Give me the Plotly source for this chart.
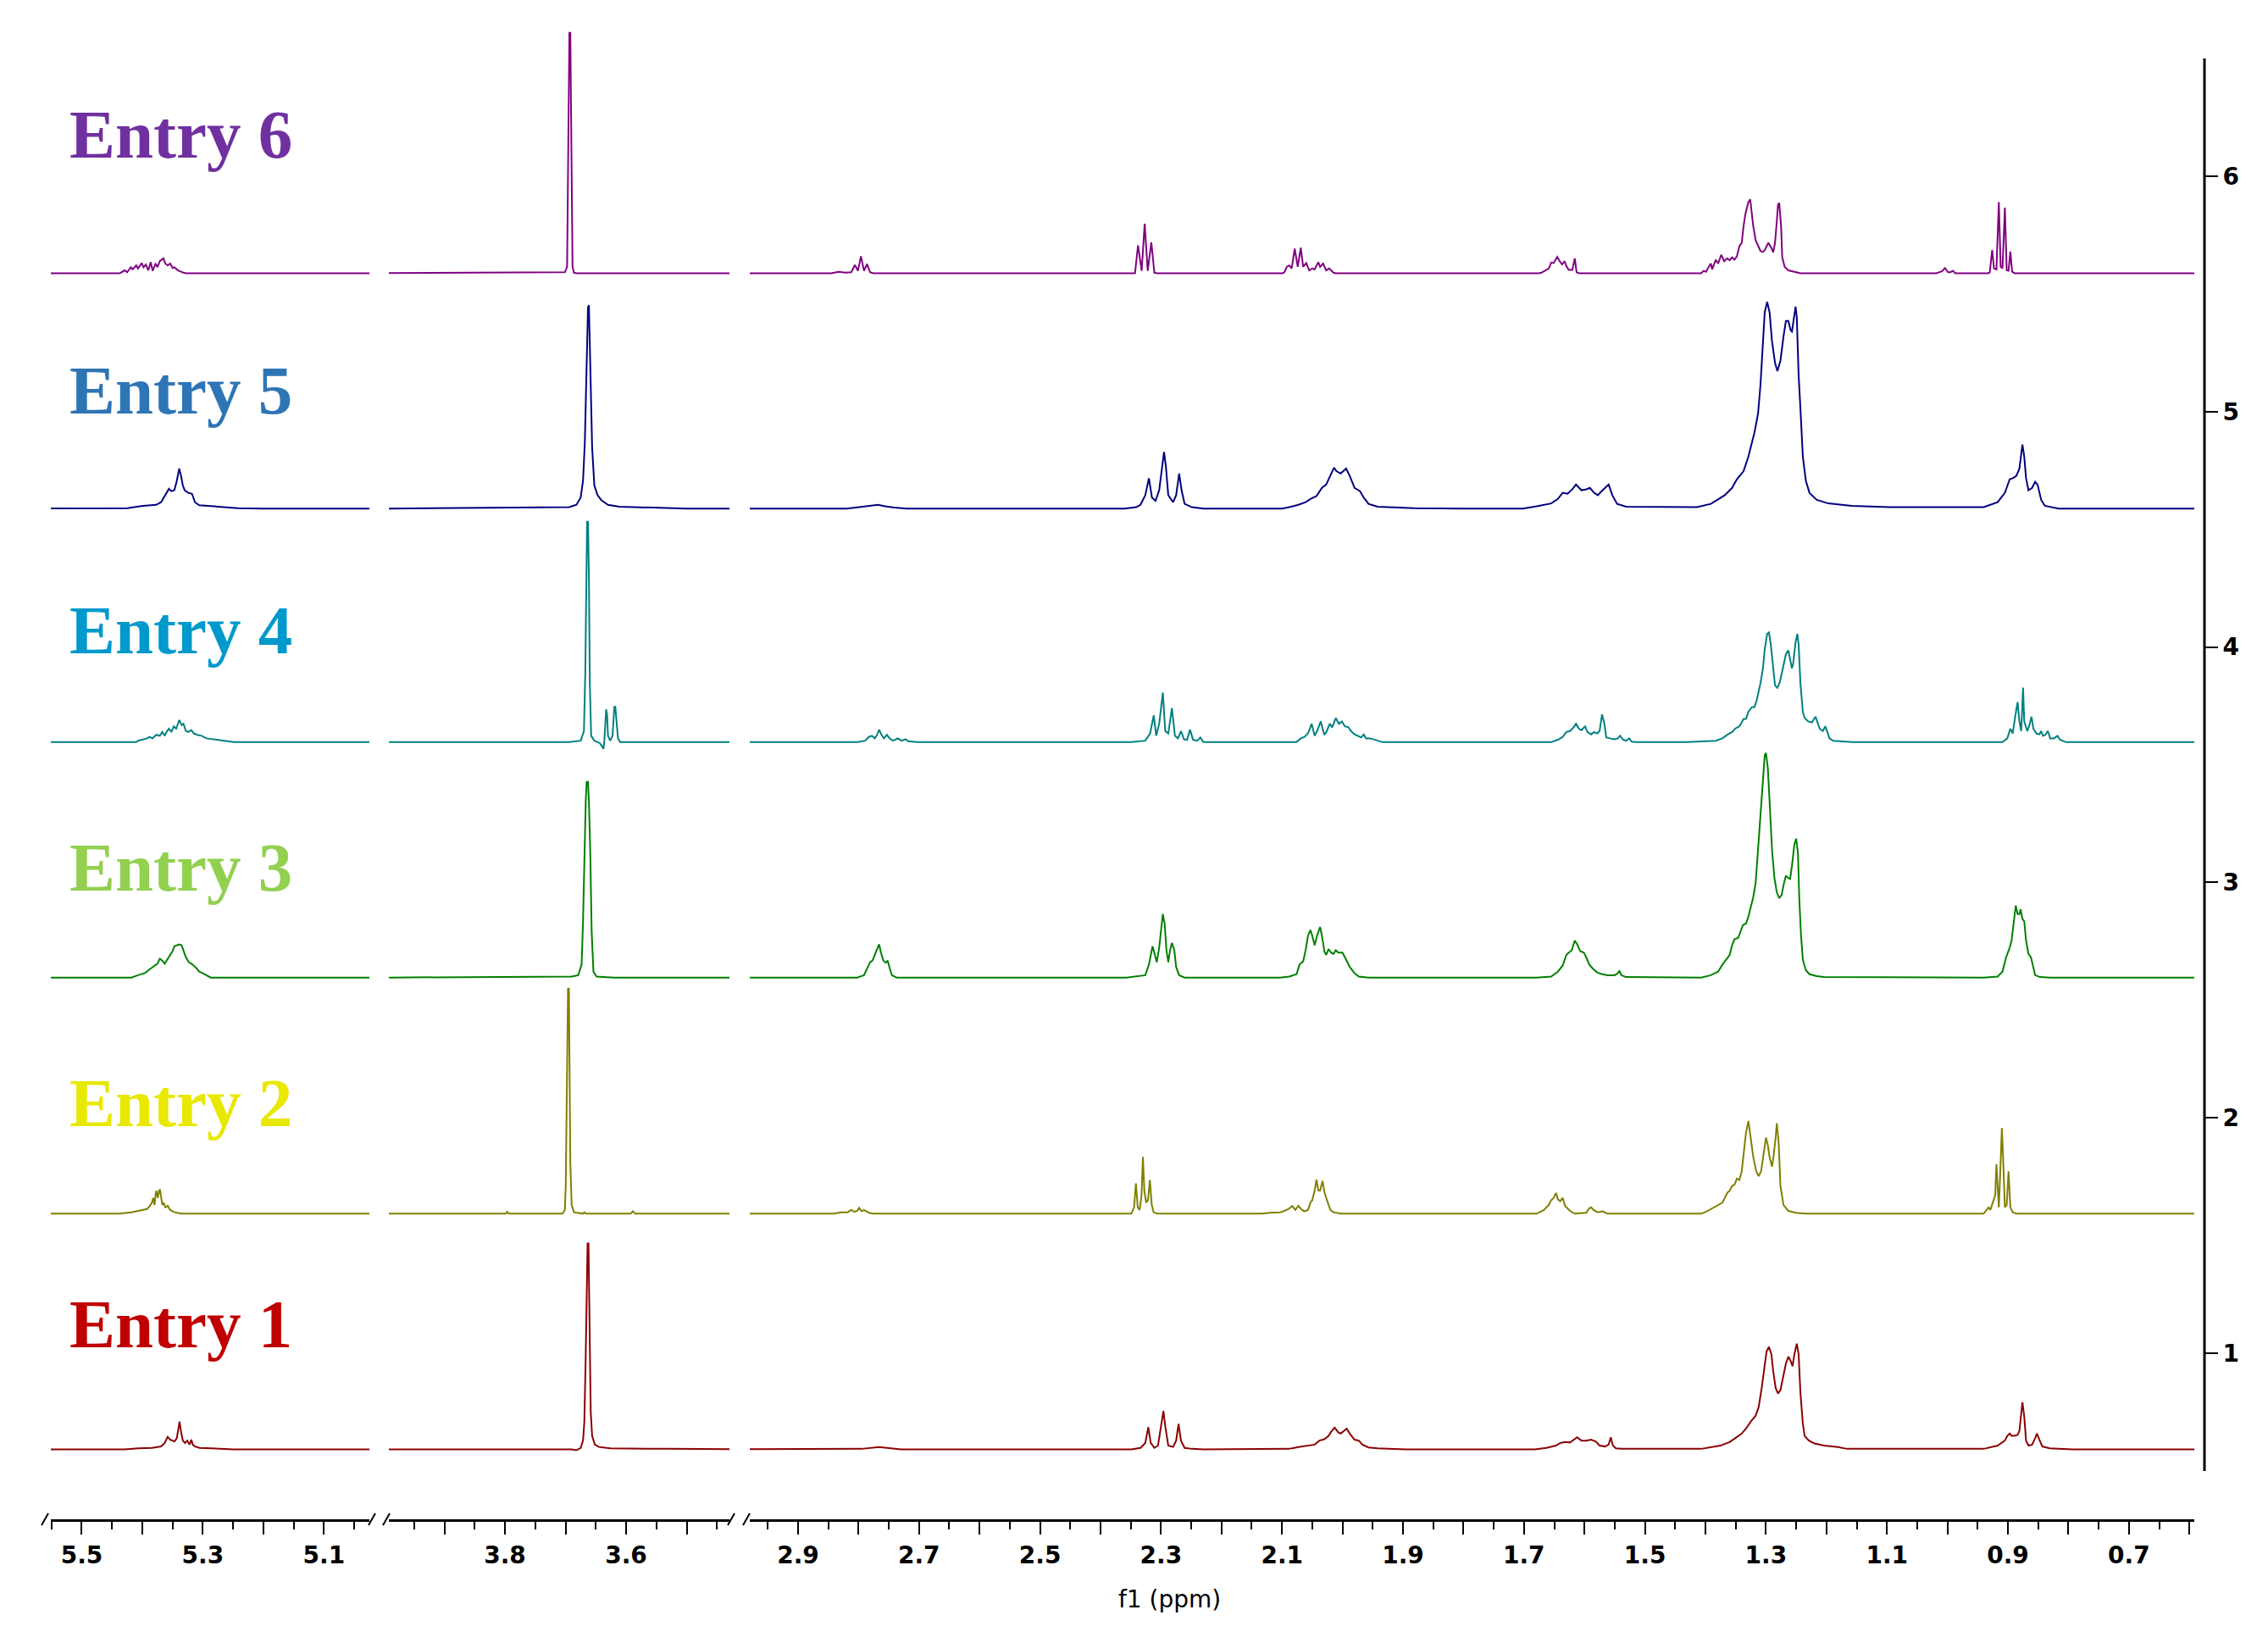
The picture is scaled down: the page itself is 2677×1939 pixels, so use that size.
import plotly.graph_objects as go

# ---------------- data ----------------
ENTRY_LABELS = ["Entry 1", "Entry 2", "Entry 3", "Entry 4", "Entry 5", "Entry 6"]
LINE_COLORS = ["#8B0000", "#808000", "#008000", "#008080", "#000080", "#800080"]
LABEL_COLORS = ["#C00000", "#E8E800", "#92D050", "#0099CC", "#2E75B6", "#7030A0"]
BASELINES = [0.592, 1.593, 2.596, 3.596, 4.588, 5.588]

# (chemical shift ppm, intensity above baseline)
E6_POINTS = [
    (5.60, 0), (5.437, 0), (5.429, .012), (5.425, .004), (5.419, .025), (5.416, .016), (5.410, .033),
    (5.407, .020), (5.401, .043), (5.398, .025), (5.394, .037), (5.390, .012), (5.386, .047), (5.383, .010),
    (5.378, .041), (5.375, .025), (5.371, .051), (5.365, .063), (5.362, .041), (5.358, .033), (5.354, .041),
    (5.350, .022), (5.347, .025), (5.341, .012), (5.332, .002), (5.328, 0), (5.00, 0),
    (4.00, 0), (3.7011, .004), (3.6974, .027), (3.6951, .547), (3.6936, 1.021), (3.6921, 1.021),
    (3.6906, .568), (3.6884, .027), (3.6861, .002), (3.682, 0), (3.40, 0),
    (3.00, 0), (2.845, 0), (2.833, .006), (2.822, .002), (2.812, .004), (2.806, .035), (2.801, .010),
    (2.796, .072), (2.791, .010), (2.786, .039), (2.781, .004), (2.776, 0),
    (2.343, 0), (2.338, .118), (2.332, .010), (2.327, .210), (2.322, .010), (2.316, .131), (2.311, .002), (2.307, 0),
    (2.099, 0), (2.096, .004), (2.092, .027), (2.088, .033), (2.084, .020), (2.079, .104), (2.074, .027),
    (2.069, .108), (2.065, .027), (2.060, .043), (2.055, .012), (2.050, .020), (2.046, .016), (2.040, .047),
    (2.037, .027), (2.032, .041), (2.027, .012), (2.022, .020), (2.015, .002), (2.011, 0),
    (1.675, 0), (1.671, .002), (1.659, .020), (1.655, .045), (1.651, .043), (1.645, .069), (1.641, .051),
    (1.637, .037), (1.633, .051), (1.630, .031), (1.626, .014), (1.620, .014), (1.616, .063), (1.613, .004), (1.609, 0),
    (1.407, 0), (1.403, .010), (1.399, .006), (1.395, .025), (1.391, .041), (1.389, .016), (1.383, .057),
    (1.379, .041), (1.374, .078), (1.369, .051), (1.364, .063), (1.360, .055), (1.356, .067), (1.352, .057),
    (1.348, .072), (1.344, .114), (1.340, .129), (1.337, .200), (1.334, .251), (1.331, .282), (1.329, .302),
    (1.326, .313), (1.324, .261), (1.321, .200), (1.317, .139), (1.313, .118), (1.309, .094), (1.305, .090),
    (1.302, .098), (1.296, .129), (1.291, .108), (1.288, .088), (1.285, .129), (1.282, .221), (1.280, .292),
    (1.278, .298), (1.275, .200), (1.273, .067), (1.269, .027), (1.263, .012), (1.251, .004), (1.243, 0),
    (1.018, 0), (1.009, .008), (1.004, .022), (0.999, .004), (0.995, .004), (0.991, .010), (0.987, 0),
    (0.932, 0), (0.930, .004), (0.926, .098), (0.923, .020), (0.919, .016), (0.915, .302), (0.912, .027),
    (0.909, .020), (0.905, .278), (0.902, .012), (0.899, .010), (0.896, .092), (0.893, .006), (0.889, 0), (0.55, 0),
]

E5_POINTS = [
    (5.60, 0), (5.444, 0), (5.425, .002), (5.399, .012), (5.377, .016), (5.369, .027), (5.362, .057),
    (5.356, .084), (5.352, .074), (5.347, .078), (5.343, .118), (5.339, .170), (5.336, .139), (5.333, .098),
    (5.330, .078), (5.324, .067), (5.318, .063), (5.313, .027), (5.306, .014), (5.279, .010), (5.242, .002),
    (5.20, 0), (5.00, 0),
    (4.00, 0), (3.694, .006), (3.682, .016), (3.675, .047), (3.6711, .118), (3.6681, .282), (3.6659, .527),
    (3.6644, .731), (3.6629, .854), (3.6614, .864), (3.6599, .731), (3.6584, .527), (3.6561, .261),
    (3.6524, .098), (3.6472, .057), (3.6412, .037), (3.630, .016), (3.611, .008), (3.555, .004), (3.50, 0), (3.40, 0),
    (3.00, 0), (2.82, 0), (2.799, .006), (2.787, .010), (2.768, .016), (2.756, .010), (2.741, .004), (2.72, 0),
    (2.36, 0), (2.341, .006), (2.334, .016), (2.326, .057), (2.320, .129), (2.315, .047), (2.309, .033),
    (2.303, .078), (2.298, .190), (2.295, .241), (2.292, .180), (2.288, .057), (2.280, .027), (2.275, .057),
    (2.270, .149), (2.266, .078), (2.261, .020), (2.249, .006), (2.23, 0),
    (2.10, 0), (2.088, .006), (2.073, .016), (2.061, .027), (2.053, .041), (2.043, .053), (2.034, .088),
    (2.027, .102), (2.020, .139), (2.014, .174), (2.010, .159), (2.003, .149), (1.994, .170), (1.988, .139),
    (1.980, .088), (1.971, .074), (1.965, .047), (1.957, .020), (1.942, .008), (1.881, .002), (1.80, 0),
    (1.702, 0), (1.679, .010), (1.655, .022), (1.644, .041), (1.636, .067), (1.628, .063), (1.620, .082),
    (1.614, .102), (1.605, .078), (1.597, .082), (1.591, .088), (1.584, .067), (1.578, .057), (1.570, .078),
    (1.560, .102), (1.554, .057), (1.546, .020), (1.531, .008), (1.414, .006), (1.391, .020), (1.368, .057),
    (1.356, .088), (1.348, .125), (1.337, .159), (1.329, .221), (1.319, .323), (1.313, .404), (1.309, .527),
    (1.305, .690), (1.302, .834), (1.298, .878), (1.294, .834), (1.290, .711), (1.285, .619), (1.281, .584),
    (1.276, .629), (1.271, .731), (1.267, .797), (1.263, .797), (1.259, .756), (1.257, .752), (1.253, .834),
    (1.251, .858), (1.249, .813), (1.246, .568), (1.243, .425), (1.239, .221), (1.234, .118), (1.228, .067),
    (1.216, .037), (1.197, .022), (1.158, .012), (1.096, .006), (0.940, .006), (0.917, .027), (0.905, .067),
    (0.897, .125), (0.892, .129), (0.886, .139), (0.881, .170), (0.878, .231), (0.876, .272), (0.873, .221),
    (0.870, .129), (0.866, .078), (0.860, .088), (0.855, .114), (0.851, .102), (0.845, .037), (0.839, .012),
    (0.816, 0), (0.55, 0),
]

E4_POINTS = [
    (5.60, 0), (5.410, 0), (5.407, .006), (5.399, .012), (5.392, .016), (5.388, .022), (5.383, .016),
    (5.377, .031), (5.371, .027), (5.367, .043), (5.363, .027), (5.359, .047), (5.356, .057), (5.352, .043),
    (5.348, .067), (5.344, .057), (5.339, .094), (5.335, .072), (5.332, .078), (5.328, .047), (5.324, .043),
    (5.319, .051), (5.315, .037), (5.309, .031), (5.302, .027), (5.294, .016), (5.283, .012), (5.272, .006),
    (5.249, 0), (5.00, 0),
    (4.00, 0), (3.694, 0), (3.675, .006), (3.6696, .047), (3.6674, .292), (3.6659, .701), (3.6644, .936),
    (3.6629, .936), (3.6614, .701), (3.6599, .251), (3.6577, .027), (3.6524, .006), (3.6434, -.004),
    (3.6397, -.018), (3.6374, -.029), (3.6359, .006), (3.6344, .088), (3.6329, .139), (3.6314, .118),
    (3.6299, .027), (3.6262, .006), (3.6224, .027), (3.6194, .149), (3.6179, .153), (3.6164, .108),
    (3.6134, .016), (3.6097, 0), (3.40, 0),
    (3.00, 0), (2.802, 0), (2.789, .006), (2.783, .022), (2.778, .027), (2.773, .016), (2.769, .033),
    (2.766, .053), (2.762, .031), (2.758, .016), (2.753, .031), (2.749, .016), (2.743, .006), (2.735, .016),
    (2.729, .006), (2.722, .012), (2.718, .004), (2.703, 0),
    (2.349, 0), (2.326, .006), (2.318, .037), (2.312, .114), (2.308, .027), (2.303, .078), (2.297, .210),
    (2.293, .047), (2.288, .037), (2.282, .145), (2.277, .027), (2.272, .016), (2.267, .047), (2.262, .012),
    (2.257, .010), (2.252, .053), (2.247, .010), (2.240, .006), (2.235, .020), (2.230, 0),
    (2.076, 0), (2.069, .016), (2.063, .022), (2.057, .037), (2.051, .078), (2.046, .027), (2.042, .047),
    (2.036, .088), (2.030, .031), (2.027, .041), (2.021, .078), (2.017, .063), (2.011, .102), (2.006, .078),
    (2.001, .088), (1.996, .067), (1.990, .063), (1.986, .047), (1.980, .033), (1.974, .027), (1.969, .020),
    (1.965, .033), (1.961, .016), (1.954, .016), (1.946, .010), (1.934, 0),
    (1.655, 0), (1.644, .010), (1.636, .022), (1.630, .043), (1.624, .047), (1.618, .063), (1.614, .078),
    (1.609, .057), (1.605, .051), (1.599, .067), (1.595, .043), (1.589, .033), (1.584, .043), (1.579, .037),
    (1.575, .047), (1.571, .118), (1.567, .078), (1.564, .020), (1.558, .016), (1.550, .012), (1.545, .016),
    (1.541, .027), (1.536, .010), (1.531, .006), (1.526, .016), (1.522, .002), (1.515, 0),
    (1.430, 0), (1.383, .006), (1.372, .016), (1.364, .031), (1.356, .043), (1.351, .057), (1.344, .067),
    (1.340, .084), (1.337, .098), (1.333, .098), (1.329, .129), (1.323, .149), (1.319, .149), (1.315, .180),
    (1.309, .251), (1.305, .313), (1.302, .394), (1.298, .460), (1.295, .466), (1.292, .415), (1.288, .313),
    (1.285, .241), (1.281, .231), (1.277, .255), (1.273, .302), (1.267, .374), (1.263, .390), (1.260, .353),
    (1.257, .313), (1.255, .333), (1.251, .425), (1.248, .460), (1.246, .415), (1.243, .251), (1.239, .129),
    (1.236, .102), (1.230, .088), (1.224, .084), (1.218, .108), (1.214, .078), (1.211, .057), (1.206, .047),
    (1.202, .067), (1.199, .047), (1.195, .016), (1.189, .006), (1.158, 0),
    (0.909, 0), (0.901, .016), (0.896, .057), (0.892, .037), (0.888, .108), (0.884, .170), (0.881, .088),
    (0.878, .047), (0.875, .231), (0.873, .088), (0.868, .047), (0.865, .067), (0.861, .108), (0.858, .057),
    (0.853, .037), (0.848, .033), (0.845, .047), (0.842, .027), (0.838, .031), (0.834, .047), (0.830, .016),
    (0.824, .016), (0.818, .027), (0.814, .010), (0.804, 0), (0.55, 0),
]

E3_POINTS = [
    (5.60, 0), (5.418, 0), (5.407, .010), (5.395, .020), (5.388, .035), (5.380, .051), (5.375, .059),
    (5.371, .080), (5.367, .072), (5.363, .059), (5.358, .080), (5.354, .096), (5.350, .112), (5.347, .133),
    (5.343, .137), (5.339, .141), (5.335, .137), (5.332, .112), (5.328, .086), (5.323, .065), (5.317, .055),
    (5.311, .041), (5.306, .025), (5.300, .018), (5.294, .010), (5.287, 0), (5.00, 0),
    (4.00, 0), (3.690, .004), (3.679, .010), (3.6734, .055), (3.6711, .239), (3.6689, .545), (3.6666, .750),
    (3.6651, .831), (3.6629, .831), (3.6614, .750), (3.6591, .525), (3.6569, .198), (3.6539, .025),
    (3.6487, .004), (3.62, 0), (3.40, 0),
    (3.00, 0), (2.802, 0), (2.791, .010), (2.786, .035), (2.781, .065), (2.777, .072), (2.773, .096),
    (2.769, .121), (2.766, .141), (2.763, .106), (2.759, .072), (2.755, .063), (2.752, .072), (2.749, .045),
    (2.745, .010), (2.737, 0),
    (2.357, 0), (2.326, .010), (2.320, .055), (2.314, .133), (2.311, .100), (2.307, .065), (2.303, .127),
    (2.299, .239), (2.297, .270), (2.294, .229), (2.291, .116), (2.288, .065), (2.285, .116), (2.282, .147),
    (2.278, .116), (2.275, .045), (2.270, .010), (2.261, 0),
    (2.103, 0), (2.088, .004), (2.076, .014), (2.071, .055), (2.065, .069), (2.061, .116), (2.057, .178),
    (2.053, .202), (2.050, .178), (2.046, .137), (2.042, .178), (2.037, .215), (2.034, .178), (2.030, .112),
    (2.027, .096), (2.023, .121), (2.019, .106), (2.015, .100), (2.011, .116), (2.007, .106), (2.003, .106),
    (2.000, .106), (1.994, .076), (1.988, .045), (1.980, .018), (1.973, .004), (1.957, 0),
    (1.679, 0), (1.655, .004), (1.644, .025), (1.636, .051), (1.630, .096), (1.626, .106), (1.621, .116),
    (1.616, .157), (1.612, .141), (1.607, .112), (1.601, .106), (1.597, .086), (1.592, .055), (1.585, .035),
    (1.578, .020), (1.570, .014), (1.562, .010), (1.550, .010), (1.545, .018), (1.542, .029), (1.539, .010),
    (1.531, .002), (1.407, 0), (1.391, .010), (1.379, .025), (1.372, .055), (1.365, .080), (1.360, .096),
    (1.356, .137), (1.352, .163), (1.346, .168), (1.342, .198), (1.338, .223), (1.333, .229), (1.329, .259),
    (1.325, .300), (1.321, .341), (1.317, .402), (1.313, .545), (1.309, .688), (1.305, .852), (1.302, .944),
    (1.300, .954), (1.297, .893), (1.294, .750), (1.290, .545), (1.286, .423), (1.282, .362), (1.278, .337),
    (1.274, .351), (1.271, .392), (1.267, .433), (1.263, .423), (1.260, .419), (1.257, .474), (1.253, .566),
    (1.250, .590), (1.247, .525), (1.245, .341), (1.242, .178), (1.239, .076), (1.234, .031), (1.228, .014),
    (1.216, .006), (1.204, .002), (0.940, 0), (0.917, .004), (0.909, .025), (0.903, .086), (0.897, .127),
    (0.894, .157), (0.890, .239), (0.887, .306), (0.884, .270), (0.881, .270), (0.879, .290), (0.876, .249),
    (0.873, .239), (0.870, .157), (0.866, .100), (0.862, .086), (0.859, .055), (0.855, .010), (0.847, .002),
    (0.83, 0), (0.55, 0),
]

E2_POINTS = [
    (5.60, 0), (5.437, 0), (5.418, .006), (5.399, .016), (5.392, .020), (5.388, .031), (5.384, .047),
    (5.382, .067), (5.3797, .037), (5.3782, .078), (5.3767, .098), (5.3744, .067), (5.3722, .098),
    (5.3707, .102), (5.3684, .067), (5.3669, .037), (5.3647, .047), (5.362, .027), (5.358, .033),
    (5.354, .016), (5.347, .006), (5.336, 0), (5.00, 0),
    (4.00, 0), (3.7985, 0), (3.7962, .008), (3.7939, 0), (3.7048, 0), (3.7011, .016), (3.6996, .118),
    (3.6981, .425), (3.6974, .752), (3.6959, .956), (3.6944, .956), (3.6936, .670), (3.6921, .221),
    (3.6899, .037), (3.6861, .006), (3.6711, 0), (3.6689, .006), (3.6666, 0), (3.5925, 0), (3.5888, .010),
    (3.5850, 0), (3.40, 0),
    (3.00, 0), (2.841, 0), (2.829, .006), (2.818, .006), (2.812, .016), (2.807, .008), (2.802, .012),
    (2.799, .025), (2.795, .010), (2.791, .016), (2.787, .010), (2.783, .004), (2.776, 0),
    (2.349, 0), (2.3445, .027), (2.3415, .129), (2.3384, .027), (2.3353, .016), (2.3322, .078),
    (2.3299, .241), (2.3276, .098), (2.3245, .047), (2.3215, .057), (2.3184, .143), (2.3153, .037),
    (2.3122, .006), (2.307, 0),
    (2.134, 0), (2.119, .004), (2.103, .006), (2.096, .012), (2.089, .020), (2.083, .033), (2.078, .016),
    (2.073, .033), (2.067, .016), (2.063, .010), (2.057, .016), (2.053, .047), (2.050, .057), (2.046, .098),
    (2.043, .145), (2.040, .098), (2.037, .098), (2.033, .139), (2.030, .094), (2.027, .067), (2.024, .047),
    (2.020, .016), (2.015, .006), (2.003, 0),
    (1.679, 0), (1.667, .016), (1.659, .037), (1.655, .057), (1.651, .067), (1.647, .088), (1.644, .061),
    (1.640, .053), (1.636, .067), (1.632, .033), (1.624, .012), (1.616, 0), (1.597, .004), (1.593, .020),
    (1.589, .027), (1.585, .016), (1.578, .006), (1.570, .010), (1.562, 0),
    (1.407, 0), (1.399, .008), (1.393, .016), (1.387, .025), (1.379, .037), (1.372, .047), (1.368, .067),
    (1.364, .088), (1.360, .098), (1.356, .118), (1.352, .123), (1.348, .149), (1.344, .143), (1.340, .180),
    (1.337, .251), (1.333, .343), (1.329, .394), (1.326, .343), (1.321, .241), (1.316, .180), (1.312, .159),
    (1.308, .180), (1.304, .261), (1.300, .323), (1.297, .292), (1.294, .241), (1.290, .200), (1.288, .231),
    (1.284, .323), (1.282, .384), (1.279, .302), (1.276, .118), (1.271, .037), (1.263, .012), (1.251, .004),
    (1.236, 0),
    (0.940, 0), (0.932, .027), (0.929, .016), (0.925, .047), (0.921, .078), (0.919, .210), (0.917, .088),
    (0.915, .027), (0.912, .221), (0.910, .364), (0.908, .241), (0.905, .027), (0.902, .037), (0.899, .180),
    (0.896, .027), (0.892, .006), (0.886, 0), (0.55, 0),
]

E1_POINTS = [
    (5.60, 0), (5.429, 0), (5.407, .004), (5.384, .006), (5.369, .012), (5.363, .027), (5.358, .053),
    (5.354, .041), (5.350, .037), (5.347, .033), (5.343, .047), (5.3407, .082), (5.3384, .118),
    (5.3362, .078), (5.333, .037), (5.3295, .027), (5.3257, .037), (5.322, .020), (5.319, .041),
    (5.3167, .020), (5.313, .012), (5.3055, .006), (5.279, .004), (5.249, 0), (5.00, 0),
    (4.00, 0), (3.690, 0), (3.682, -.004), (3.675, .006), (3.6711, .037), (3.6689, .118), (3.6666, .404),
    (3.6651, .711), (3.6636, .874), (3.6621, .874), (3.6606, .507), (3.6584, .159), (3.6561, .057),
    (3.6516, .020), (3.6449, .010), (3.6262, .004), (3.5288, .002), (3.40, 0),
    (3.00, 0), (2.80, 0), (2.795, .002), (2.766, .010), (2.741, .002), (2.73, 0),
    (2.349, 0), (2.334, .006), (2.326, .027), (2.321, .094), (2.317, .027), (2.311, .006), (2.305, .016),
    (2.300, .098), (2.296, .163), (2.293, .098), (2.288, .016), (2.280, .010), (2.275, .037), (2.271, .108),
    (2.267, .037), (2.261, .006), (2.249, .002), (2.23, 0),
    (2.10, 0), (2.088, .002), (2.073, .010), (2.057, .016), (2.046, .020), (2.038, .037), (2.030, .043),
    (2.023, .057), (2.019, .074), (2.013, .092), (2.007, .072), (2.003, .067), (1.998, .078), (1.993, .088),
    (1.988, .067), (1.980, .041), (1.973, .037), (1.967, .020), (1.957, .008), (1.942, .004), (1.896, 0),
    (1.682, 0), (1.663, .006), (1.647, .016), (1.640, .027), (1.632, .031), (1.624, .029), (1.618, .041),
    (1.612, .051), (1.605, .037), (1.597, .037), (1.589, .041), (1.581, .033), (1.575, .016), (1.566, .012),
    (1.560, .020), (1.5565, .051), (1.553, .016), (1.548, .004), (1.539, .002), (1.407, .002), (1.375, .016),
    (1.360, .031), (1.351, .047), (1.340, .067), (1.333, .088), (1.325, .118), (1.317, .143), (1.312, .180),
    (1.307, .261), (1.303, .343), (1.299, .415), (1.295, .435), (1.291, .404), (1.288, .333), (1.284, .261),
    (1.280, .237), (1.276, .251), (1.272, .302), (1.267, .364), (1.263, .394), (1.259, .374), (1.256, .353),
    (1.253, .404), (1.249, .449), (1.246, .404), (1.243, .241), (1.239, .108), (1.236, .057), (1.229, .037),
    (1.220, .025), (1.204, .016), (1.181, .010), (1.166, .002), (0.940, .002), (0.917, .016), (0.905, .037),
    (0.901, .057), (0.897, .067), (0.894, .057), (0.890, .057), (0.884, .061), (0.881, .078), (0.878, .139),
    (0.876, .200), (0.873, .139), (0.870, .037), (0.866, .016), (0.860, .020), (0.855, .047), (0.852, .067),
    (0.848, .041), (0.843, .012), (0.831, .004), (0.793, 0), (0.55, 0),
]

SPECTRA = [E1_POINTS, E2_POINTS, E3_POINTS, E4_POINTS, E5_POINTS, E6_POINTS]

# axis ticks (three broken segments of the f1 axis)
SEG_RANGES = [(5.551, 5.025), (3.9916, 3.4294), (2.9798, 0.5919)]
MAJOR_TICKS = [
    [5.5, 5.4, 5.3, 5.2, 5.1],
    [3.9, 3.8, 3.7, 3.6, 3.5],
    [2.9, 2.8, 2.7, 2.6, 2.5, 2.4, 2.3, 2.2, 2.1, 2.0, 1.9, 1.8, 1.7, 1.6, 1.5, 1.4, 1.3, 1.2, 1.1, 1.0,
     0.9, 0.8, 0.7, 0.6],
]
MAJOR_LABELS = [
    ["5.5", "", "5.3", "", "5.1"],
    ["", "3.8", "", "3.6", ""],
    ["2.9", "", "2.7", "", "2.5", "", "2.3", "", "2.1", "", "1.9", "", "1.7", "", "1.5", "", "1.3", "", "1.1",
     "", "0.9", "", "0.7", ""],
]
MINOR_TICKS = [
    [5.55, 5.45, 5.35, 5.25, 5.15, 5.05],
    [3.95, 3.85, 3.75, 3.65, 3.55, 3.45],
    [2.95, 2.85, 2.75, 2.65, 2.55, 2.45, 2.35, 2.25, 2.15, 2.05, 1.95, 1.85, 1.75, 1.65, 1.55, 1.45, 1.35,
     1.25, 1.15, 1.05, 0.95, 0.85, 0.75, 0.65],
]
Y_TICKS = [1, 2, 3, 4, 5, 6]
Y_AXIS_SPAN = (0.5, 6.5)
X_TITLE = "f1 (ppm)"

# ---------------- layout geometry (pixels) ----------------
W, H = 2677, 1939
ML, MR, MT, MB = 20, 75, 20, 146
PW = W - ML - MR
PH = H - MT - MB
SEG_PX = [(60, 436), (459, 861), (885, 2590)]
Y_RANGE = [0.2948, 6.6764]
LABEL_Y = [1.122, 2.062, 3.062, 4.070, 5.089, 6.176]


def px_to_paper_x(px):
    return (px - ML) / PW


def px_to_paper_y(py):
    return (H - MB - py) / PH


def seg_of(p):
    if p > 4.5:
        return 0
    if p > 3.2:
        return 1
    return 2


fig = go.Figure()
axis_names = ["x", "x2", "x3"]
for i, pts in enumerate(SPECTRA):
    for s in range(3):
        xs = [p for p, v in pts if seg_of(p) == s]
        ys = [BASELINES[i] + v for p, v in pts if seg_of(p) == s]
        fig.add_trace(go.Scatter(
            x=xs, y=ys, mode="lines", xaxis=axis_names[s], yaxis="y",
            line=dict(color=LINE_COLORS[i], width=2), showlegend=False, hoverinfo="skip",
        ))

tick_font = dict(family="DejaVu Sans", size=28, color="black", weight="bold")
layout_axes = {}
for s in range(3):
    key = "xaxis" if s == 0 else f"xaxis{s + 1}"
    layout_axes[key] = dict(
        domain=[px_to_paper_x(SEG_PX[s][0]), px_to_paper_x(SEG_PX[s][1])],
        range=list(SEG_RANGES[s]),
        anchor="y",
        showline=True, linecolor="black", linewidth=3,
        ticks="outside", ticklen=15, tickwidth=2, tickcolor="black",
        tickmode="array", tickvals=MAJOR_TICKS[s], ticktext=MAJOR_LABELS[s],
        tickfont=tick_font,
        minor=dict(tickmode="array", tickvals=MINOR_TICKS[s], ticks="outside", ticklen=9,
                   tickwidth=2, tickcolor="black", showgrid=False),
        showgrid=False, zeroline=False,
    )

fig.update_layout(
    width=W, height=H,
    margin=dict(l=ML, r=MR, t=MT, b=MB, pad=0),
    paper_bgcolor="white", plot_bgcolor="white",
    yaxis=dict(
        range=Y_RANGE, anchor="free", position=1, side="right",
        showline=False, showgrid=False, zeroline=False,
        ticks="outside", ticklen=15, tickwidth=2, tickcolor="black",
        tickmode="array", tickvals=Y_TICKS, ticktext=[str(t) for t in Y_TICKS],
        tickfont=tick_font,
    ),
    **layout_axes,
)

shapes = [dict(type="line", xref="paper", yref="y", x0=1, x1=1, y0=Y_AXIS_SPAN[0], y1=Y_AXIS_SPAN[1],
               line=dict(color="black", width=3))]
for cx in [53, 439, 456, 863, 881]:
    shapes.append(dict(type="line", xref="paper", yref="paper",
                       x0=px_to_paper_x(cx - 4), x1=px_to_paper_x(cx + 4),
                       y0=px_to_paper_y(1800), y1=px_to_paper_y(1786),
                       line=dict(color="black", width=2)))
fig.update_layout(shapes=shapes)

annotations = []
for i, name in enumerate(ENTRY_LABELS):
    annotations.append(dict(
        text=f"<b>{name}</b>", xref="paper", yref="y", x=px_to_paper_x(80), y=LABEL_Y[i],
        xanchor="left", yanchor="middle", showarrow=False,
        font=dict(family="Liberation Serif", size=81, color=LABEL_COLORS[i]),
    ))
annotations.append(dict(
    text=X_TITLE, xref="paper", yref="paper", x=px_to_paper_x(1380), y=px_to_paper_y(1887),
    xanchor="center", yanchor="middle", showarrow=False,
    font=dict(family="DejaVu Sans", size=28, color="black"),
))
fig.update_layout(annotations=annotations)

fig.write_html("out.html")
